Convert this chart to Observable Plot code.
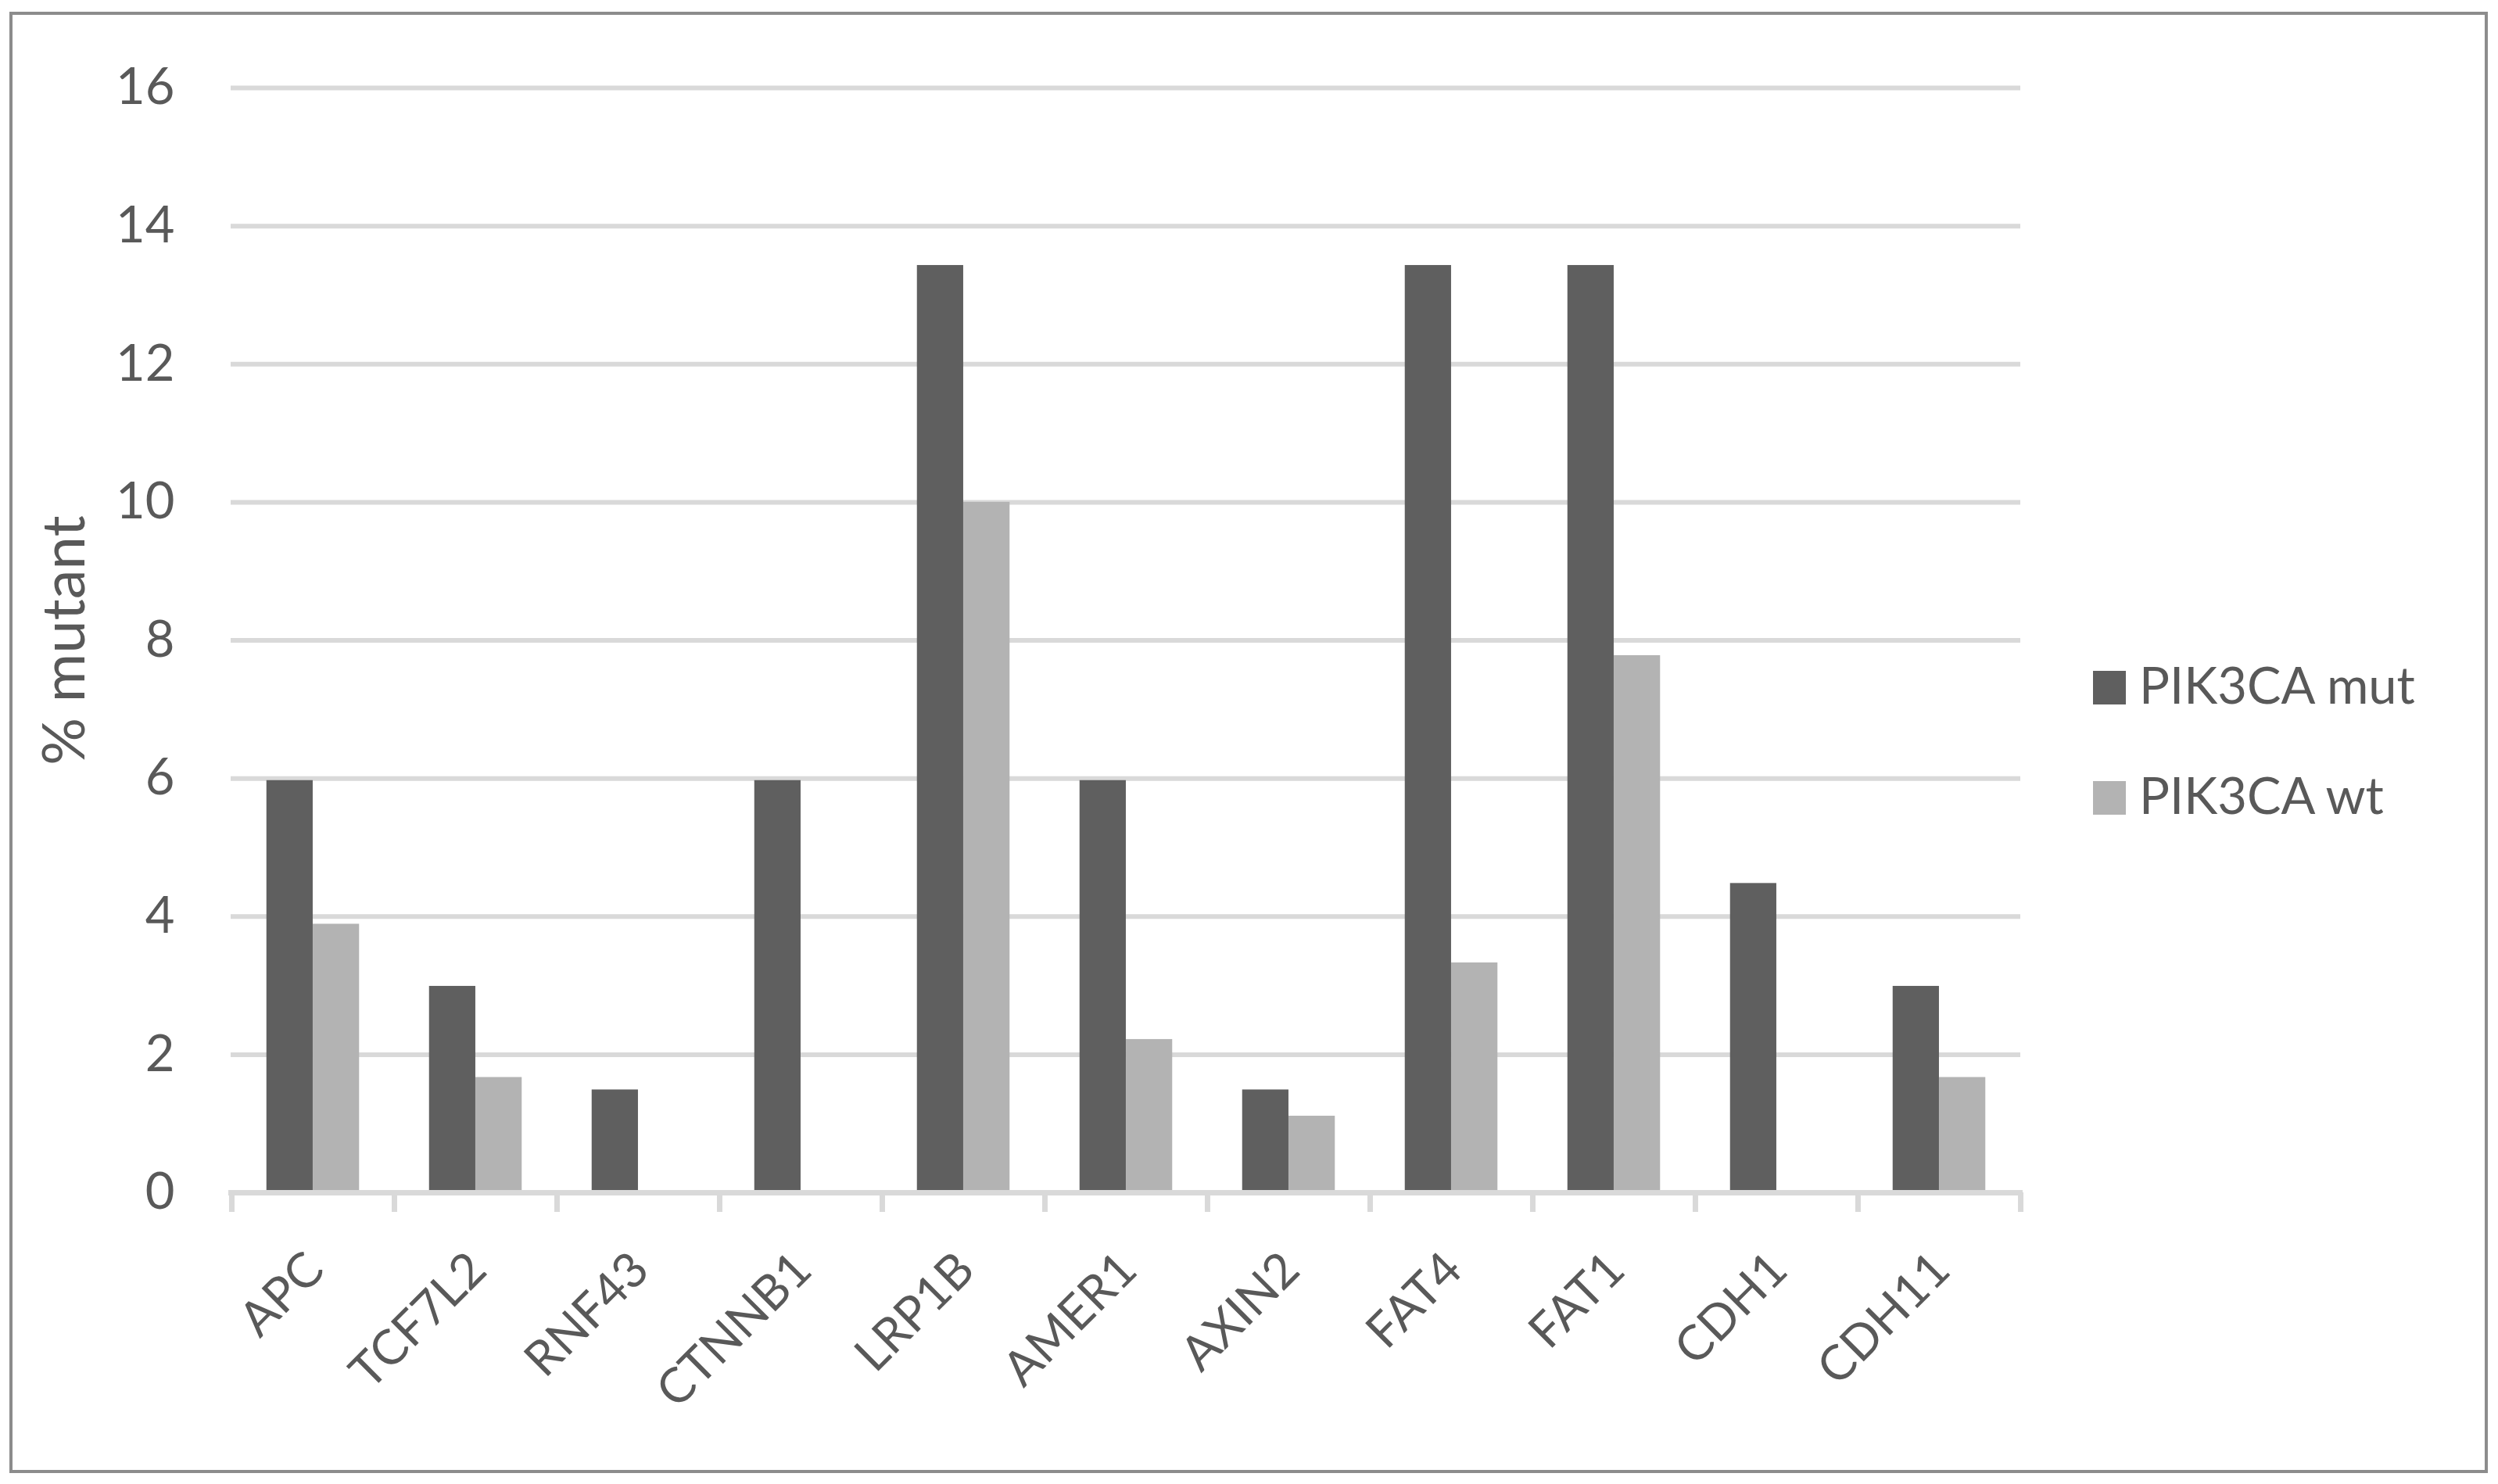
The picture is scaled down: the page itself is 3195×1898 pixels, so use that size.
<!DOCTYPE html>
<html>
<head>
<meta charset="utf-8">
<script src="https://cdn.jsdelivr.net/npm/d3@7"></script>
<script src="https://cdn.jsdelivr.net/npm/@observablehq/plot@0.6"></script>
<style>
  html, body { margin: 0; padding: 0; background: #ffffff; overflow: hidden; }
  #page { position: relative; width: 3195px; height: 1898px; font-family: Lato, sans-serif; color: #595959; }
  #chart { position: absolute; left: 0; top: 0; }
  #border { position: absolute; left: 12px; top: 15px; width: 3170px; height: 1869px; box-sizing: border-box; border: 4px solid #8c8c8c; pointer-events: none; }
  .legend-row { position: absolute; left: 2677px; height: 43px; }
  .legend-sw { position: absolute; left: 0; top: 0; width: 42px; height: 43px; }
  .legend-tx { position: absolute; left: 59px; font-size: 65px; line-height: 65px; white-space: nowrap; color: #595959; }
</style>
</head>
<body>
<div id="page">
  <div id="chart"></div>
  <div id="legend"></div>
  <div id="border"></div>
</div>
<script>
// ---- data ----
const genes = ["APC", "TCF7L2", "RNF43", "CTNNB1", "LRP1B", "AMER1", "AXIN2", "FAT4", "FAT1", "CDH1", "CDH11"];
const seriesNames = ["PIK3CA mut", "PIK3CA wt"];
const mutValues = [5.97, 2.99, 1.49, 5.97, 13.43, 5.97, 1.49, 13.43, 13.43, 4.48, 2.99];
const wtValues = [3.89, 1.67, 0, 0, 10.0, 2.22, 1.11, 3.33, 7.78, 0, 1.67];
const yTicks = [0, 2, 4, 6, 8, 10, 12, 14, 16];
const seriesColors = ["#5f5f5f", "#b3b3b3"];
const yLabel = "% mutant";

const rows = [];
genes.forEach((g, i) => {
  rows.push({gene: g, series: seriesNames[0], value: mutValues[i]});
  rows.push({gene: g, series: seriesNames[1], value: wtValues[i]});
});

// ---- layout ----
const W = 3195, H = 1898;
const mL = 295, mR = 611, mT = 112, mB = 373;
const bw = (W - mL - mR) / genes.length;
const barW = bw * 0.285;
const gap = (bw - 2 * barW) / 2;
const textColor = "#595959";
const gridColor = "#d9d9d9";

const chart = Plot.plot({
  width: W,
  height: H,
  marginLeft: mL,
  marginRight: mR,
  marginTop: mT,
  marginBottom: mB,
  style: {fontFamily: "Lato, sans-serif", fontSize: "65px", color: textColor, background: "transparent", overflow: "visible"},
  x: {domain: genes, padding: 0, axis: null},
  y: {domain: [0, 16], axis: null},
  color: {domain: seriesNames, range: seriesColors},
  marks: [
    Plot.gridY(yTicks.filter(t => t > 0), {stroke: gridColor, strokeOpacity: 1, strokeWidth: 6}),
    Plot.barY(rows.filter(d => d.series === seriesNames[0]), {
      x: "gene", y: "value", fill: "series", insetLeft: gap, insetRight: gap + barW
    }),
    Plot.barY(rows.filter(d => d.series === seriesNames[1]), {
      x: "gene", y: "value", fill: "series", insetLeft: gap + barW, insetRight: gap
    }),
    Plot.ruleY([0], {stroke: gridColor, strokeWidth: 7, insetLeft: -3, insetRight: -3}),
    Plot.ruleX(genes, {x: d => d, dx: -bw / 2, y1: () => 0, y2: () => 0, insetBottom: -25, stroke: gridColor, strokeWidth: 7}),
    Plot.ruleX([genes[genes.length - 1]], {x: d => d, dx: bw / 2, y1: () => 0, y2: () => 0, insetBottom: -25, stroke: gridColor, strokeWidth: 7}),
    Plot.axisY(yTicks, {tickSize: 0, tickPadding: 72, fontSize: 65, fill: textColor, label: null, tickFormat: d => String(d)}),
    Plot.text(genes, {x: d => d, y: () => 0, text: d => d, rotate: -45, textAnchor: "end", dx: 3, dy: 88, fontSize: 62, fill: textColor}),
    Plot.text([yLabel], {frameAnchor: "left", textAnchor: "middle", text: d => d, dx: -212, rotate: -90, fontSize: 76, fill: textColor})
  ]
});
document.getElementById("chart").appendChild(chart);

// ---- legend ----
const legend = document.getElementById("legend");
const legendTops = [858, 999];
seriesNames.forEach((name, i) => {
  const row = document.createElement("div");
  row.className = "legend-row";
  row.style.top = legendTops[i] + "px";
  const sw = document.createElement("div");
  sw.className = "legend-sw";
  sw.style.background = seriesColors[i];
  const tx = document.createElement("div");
  tx.className = "legend-tx";
  tx.style.top = "-15px";
  tx.textContent = name;
  row.appendChild(sw);
  row.appendChild(tx);
  legend.appendChild(row);
});
</script>
</body>
</html>
